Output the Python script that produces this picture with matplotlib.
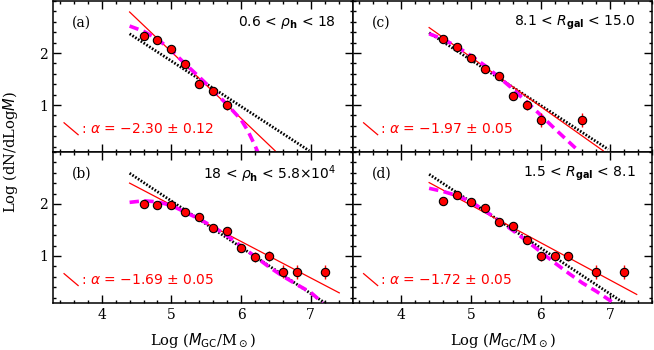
import numpy as np
import matplotlib
matplotlib.use("Agg")
import matplotlib.pyplot as plt
from matplotlib.ticker import MultipleLocator

# Data: log mass bins and log(dN/dlogM)

xa = [4.6, 4.8, 5.0, 5.2, 5.4, 5.6, 5.8]
ya = [2.32, 2.26, 2.08, 1.79, 1.41, 1.27, 1.00]
ea = [0.03, 0.03, 0.04, 0.05, 0.07, 0.08, 0.09]

xb = [4.6, 4.8, 5.0, 5.2, 5.4, 5.6, 5.8, 6.0, 6.2, 6.4, 6.6, 6.8, 7.2]
yb = [1.99, 1.97, 1.97, 1.85, 1.75, 1.54, 1.48, 1.16, 0.98, 1.00, 0.70, 0.69, 0.69]
eb = [0.02, 0.02, 0.02, 0.03, 0.03, 0.04, 0.05, 0.07, 0.09, 0.09, 0.13, 0.13, 0.13]

xc = [4.6, 4.8, 5.0, 5.2, 5.4, 5.6, 5.8, 6.0, 6.6]
yc = [2.28, 2.12, 1.91, 1.70, 1.55, 1.17, 1.00, 0.71, 0.71]
ec = [0.02, 0.03, 0.03, 0.04, 0.05, 0.07, 0.09, 0.13, 0.13]

xd = [4.6, 4.8, 5.0, 5.2, 5.4, 5.6, 5.8, 6.0, 6.2, 6.4, 6.8, 7.2]
yd = [2.06, 2.17, 2.03, 1.92, 1.66, 1.58, 1.30, 0.99, 0.99, 0.99, 0.69, 0.69]
ed = [0.03, 0.03, 0.03, 0.03, 0.04, 0.05, 0.06, 0.09, 0.09, 0.09, 0.13, 0.13]

# power-law fits (red): end points, slope = alpha + 1
alphas = ["\u22122.30 \u00b1 0.12", "\u22121.69 \u00b1 0.05",
          "\u22121.97 \u00b1 0.05", "\u22121.72 \u00b1 0.05"]
red_x = [[4.40, 6.49], [4.40, 7.41], [4.40, 6.90], [4.40, 7.38]]
red_y = [[2.79, 0.12], [2.40, 0.29], [2.49, 0.12], [2.41, 0.26]]

# reference slope (black dotted)
blk_x = [[4.40, 6.98], [4.40, 7.20], [4.40, 6.97], [4.40, 7.19]]
blk_y = [[2.37, 0.12], [2.59, 0.10], [2.39, 0.15], [2.57, 0.10]]

# curved model (magenta dashed)
mag_x = [
    [4.4, 4.6, 4.8, 5.0, 5.2, 5.4, 5.6, 5.8, 6.0, 6.1, 6.2, 6.24],
    [4.4, 4.6, 4.8, 5.0, 5.2, 5.4, 5.6, 5.8, 6.0, 6.2, 6.4, 6.6, 6.8, 7.0, 7.17],
    [4.4, 4.6, 4.8, 5.0, 5.2, 5.4, 5.6, 5.8, 6.0, 6.2, 6.4, 6.56],
    [4.4, 4.6, 4.8, 5.0, 5.2, 5.4, 5.6, 5.8, 6.0, 6.2, 6.4, 6.6, 6.8, 7.0, 7.03],
]
mag_y = [
    [2.52, 2.42, 2.27, 2.05, 1.79, 1.54, 1.28, 1.01, 0.72, 0.50, 0.22, 0.10],
    [2.03, 2.06, 2.04, 1.97, 1.84, 1.71, 1.56, 1.39, 1.19, 0.99, 0.79, 0.61, 0.45, 0.30, 0.10],
    [2.37, 2.27, 2.12, 1.95, 1.76, 1.54, 1.31, 1.06, 0.81, 0.55, 0.30, 0.10],
    [2.30, 2.24, 2.16, 2.04, 1.87, 1.68, 1.49, 1.29, 1.08, 0.87, 0.67, 0.48, 0.32, 0.14, 0.10],
]

letters = ["(a)", "(b)", "(c)", "(d)"]
ranges = [r"0.6 < $\rho_{\bf h}$ < 18",
          r"18 < $\rho_{\bf h}$ < 5.8$\times$10$^4$",
          r"8.1 < $R_{\bf gal}$ < 15.0",
          r"1.5 < $R_{\bf gal}$ < 8.1"]

xs = [xa, xb, xc, xd]
ys = [ya, yb, yc, yd]
es = [ea, eb, ec, ed]

fig, axes = plt.subplots(2, 2, figsize=(6.54, 3.5), dpi=100)
fig.subplots_adjust(left=0.081, right=0.997, top=0.997, bottom=0.135,
                    wspace=0, hspace=0)

# panel order a, b (left column), c, d (right column)
order = [axes[0, 0], axes[1, 0], axes[0, 1], axes[1, 1]]

for i, ax in enumerate(order):
    ax.plot(blk_x[i], blk_y[i], color="black", lw=2.0,
            linestyle=(0, (0.6, 0.6)), zorder=2)
    ax.plot(red_x[i], red_y[i], color="red", lw=0.9, zorder=3)
    ax.plot(mag_x[i], mag_y[i], color="magenta", lw=2.6,
            linestyle=(0, (2.6, 1.5)), zorder=4)
    ax.errorbar(xs[i], ys[i], yerr=es[i], fmt="o", ms=6.0, mfc="red",
                mec="black", mew=0.8, ecolor="red", elinewidth=1.0,
                capsize=0, zorder=5)

    ax.set_xlim(3.3, 7.6)
    ax.set_ylim(0.1, 3.0)
    ax.xaxis.set_major_locator(MultipleLocator(1))
    ax.xaxis.set_minor_locator(MultipleLocator(0.2))
    ax.set_yticks([1, 2])
    ax.yaxis.set_minor_locator(MultipleLocator(0.2))
    ax.tick_params(which="both", direction="in", top=True, right=True,
                   width=1.0, labelsize=10)
    ax.tick_params(which="major", length=5.5)
    ax.tick_params(which="minor", length=2.5)
    for s in ax.spines.values():
        s.set_linewidth(1.1)
    for lab in ax.get_xticklabels() + ax.get_yticklabels():
        lab.set_fontfamily("DejaVu Serif")

    ax.text(0.063, 0.855, letters[i], transform=ax.transAxes,
            fontsize=10, family="DejaVu Serif", va="center", ha="left")
    ax.text(0.946, 0.855, ranges[i], transform=ax.transAxes,
            fontsize=10, va="center", ha="right")

    ax.plot([0.037, 0.084], [0.193, 0.114], transform=ax.transAxes,
            color="red", lw=0.9)
    ax.text(0.093, 0.152, ": $\\alpha$ = " + alphas[i],
            transform=ax.transAxes, color="red", fontsize=10,
            va="center", ha="left")

for ax in [axes[0, 0], axes[0, 1]]:
    ax.tick_params(labelbottom=False)
for ax in [axes[0, 1], axes[1, 1]]:
    ax.tick_params(labelleft=False)

fig.text(0.016, 0.566, r"Log (dN/dLog$M$)", rotation=90, fontsize=10.5,
         family="DejaVu Serif", va="center", ha="center")
for xc_ in [0.311, 0.769]:
    fig.text(xc_, 0.026, r"Log ($M_{\rm GC}$/M$_\odot$)", fontsize=10.5,
             family="DejaVu Serif", va="center", ha="center")

plt.savefig("out.png", dpi=100)
